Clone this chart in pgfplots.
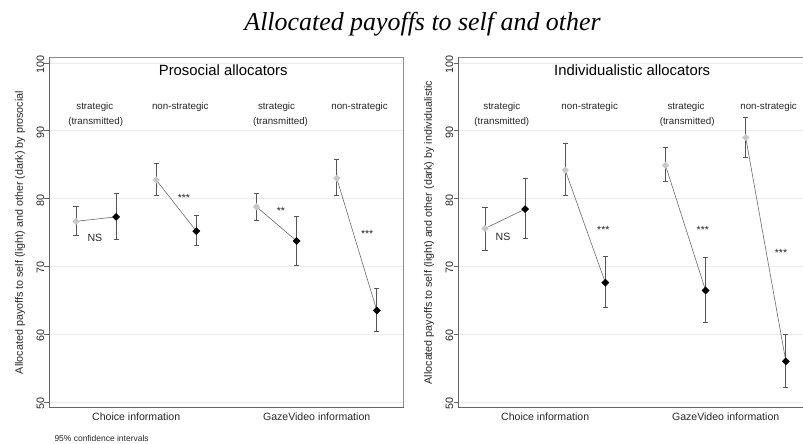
\documentclass[border=0pt]{standalone}
\usepackage{pgfplots}
\pgfplotsset{compat=1.18}
\usepackage{pgfplotstable}
\usepackage{fontspec}
\setmainfont{Liberation Sans}
\newfontfamily\titlefont{Liberation Serif}
\definecolor{selfc}{HTML}{C8C8C8}
\definecolor{barc}{HTML}{555555}
\definecolor{linec}{HTML}{6A6A6A}
\definecolor{gridc}{HTML}{EBEBEB}

\pgfdeclareplotmark{sdiamond}{%
  \pgfpathmoveto{\pgfqpoint{0pt}{\pgfplotmarksize}}%
  \pgfpathlineto{\pgfqpoint{\pgfplotmarksize}{0pt}}%
  \pgfpathlineto{\pgfqpoint{0pt}{-\pgfplotmarksize}}%
  \pgfpathlineto{\pgfqpoint{-\pgfplotmarksize}{0pt}}%
  \pgfpathclose
  \pgfusepathqfillstroke}

% Prosocial allocators
\pgfplotstableread{
x y lo hi
1   76.65 74.50 78.80
3   82.75 80.40 85.15
5.5 78.80 76.75 80.80
7.5 83.00 80.40 85.80
}\proself
\pgfplotstableread{
x y lo hi
2   77.30 74.00 80.70
4   75.20 73.05 77.50
6.5 73.75 70.20 77.30
8.5 63.50 60.40 66.70
}\proother
\pgfplotstableread{
x y
1   76.65
2   77.30
nan nan
3   82.75
4   75.20
nan nan
5.5 78.80
6.5 73.75
nan nan
7.5 83.00
8.5 63.50
}\prolines

% Individualistic allocators
\pgfplotstableread{
x y lo hi
1   75.60 72.40 78.75
3   84.20 80.40 88.10
5.5 84.90 82.50 87.60
7.5 89.00 86.10 92.00
}\indself
\pgfplotstableread{
x y lo hi
2   78.45 74.10 82.90
4   67.60 64.00 71.40
6.5 66.45 61.80 71.30
8.5 56.00 52.20 60.00
}\indother
\pgfplotstableread{
x y
1   75.60
2   78.45
nan nan
3   84.20
4   67.60
nan nan
5.5 84.90
6.5 66.45
nan nan
7.5 89.00
8.5 56.00
}\indlines

\tikzset{
  ann/.style={font=\fontsize{9.8}{11}\selectfont, text=black!85},
  stars/.style={font=\fontsize{10.5}{11}\selectfont, text=black!85, anchor=base},
  ptitle/.style={font=\fontsize{14.9}{16}\selectfont, text=black},
}

\pgfplotsset{
  panel/.style={
    scale only axis, width=354.7bp, height=350.4bp, anchor=south west,
    xmin=0.327, xmax=9.17, ymin=49.16, ymax=100.84,
    axis line style={draw=none},
    ytick={50,60,70,80,90,100}, ytick pos=left, tick align=outside,
    major tick length=4.5bp,
    ytick style={black!60, line width=0.7bp},
    yticklabel style={rotate=90, anchor=south, inner sep=0pt, xshift=-1.5bp,
      font=\fontsize{10.8}{12}\selectfont, text=black!85},
    xtick={2.5,7}, xticklabels={Choice information, GazeVideo information},
    xtick style={draw=none},
    xticklabel style={anchor=north, inner sep=0pt, yshift=-0.5bp,
      font=\fontsize{10.6}{12}\selectfont, text=black!85},
    ymajorgrids, grid style={gridc, line width=0.6bp},
    ylabel style={at={(axis description cs:-0.0818,0.5)}, anchor=center,
      font=\fontsize{10.8}{12}\selectfont, text=black!85},
    /pgf/number format/assume math mode=true,
    clip=false,
    after end axis/.code={
      \draw[black!45, line width=0.7bp] (rel axis cs:0,1) -- (rel axis cs:1,1) -- (rel axis cs:1,0);
      \draw[black!60, line width=0.8bp] (rel axis cs:0,1) -- (rel axis cs:0,0) -- (rel axis cs:1,0);
    },
  },
  connect/.style={linec, line width=0.6bp, mark=none, unbounded coords=jump},
  errs/.style={error bars/.cd, y dir=both, y explicit,
    error bar style={barc, line width=0.9bp},
    error mark=|,
    error mark options={barc, line width=0.9bp, mark size=2.6bp}},
  selfpts/.style={only marks, mark=sdiamond, mark size=3.4bp,
    mark options={fill=selfc, draw=selfc, line width=0.2bp}, errs},
  otherpts/.style={only marks, mark=sdiamond, mark size=3.7bp,
    mark options={fill=black, draw=black, line width=0.2bp}, errs},
}

\begin{document}
\begin{tikzpicture}
\useasboundingbox (0,0) rectangle (803bp,444bp);
\node[font=\titlefont\itshape\fontsize{26}{30}\selectfont, anchor=base] at (422.5bp,413bp) {Allocated payoffs to self and other};

\begin{axis}[panel, at={(49bp,36.3bp)},
  ylabel={Allocated payoffs to self (light) and other (dark) by prosocial}]
\addplot[connect] table[x=x,y=y] {\prolines};
\addplot[selfpts] table[x=x, y=y, y error plus expr=\thisrow{hi}-\thisrow{y}, y error minus expr=\thisrow{y}-\thisrow{lo}] {\proself};
\addplot[otherpts] table[x=x, y=y, y error plus expr=\thisrow{hi}-\thisrow{y}, y error minus expr=\thisrow{y}-\thisrow{lo}] {\proother};
\node[ptitle] at (axis cs:4.67,98.97) {Prosocial allocators};
\node[ann] at (axis cs:1.47,93.5) {strategic};
\node[ann] at (axis cs:1.49,91.3) {(transmitted)};
\node[ann] at (axis cs:3.6,93.5) {non-strategic};
\node[ann] at (axis cs:6.0,93.5) {strategic};
\node[ann] at (axis cs:6.1,91.3) {(transmitted)};
\node[ann] at (axis cs:8.07,93.5) {non-strategic};
\node[ann, font=\fontsize{10.6}{12}\selectfont] at (axis cs:1.47,74.2) {NS};
\node[stars] at (axis cs:3.69,79.6) {***};
\node[stars] at (axis cs:6.11,77.7) {**};
\node[stars] at (axis cs:8.26,74.2) {***};
\end{axis}

\begin{axis}[panel, at={(458bp,36.3bp)},
  ylabel={Allocated payoffs to self (light) and other (dark) by individualistic}]
\addplot[connect] table[x=x,y=y] {\indlines};
\addplot[selfpts] table[x=x, y=y, y error plus expr=\thisrow{hi}-\thisrow{y}, y error minus expr=\thisrow{y}-\thisrow{lo}] {\indself};
\addplot[otherpts] table[x=x, y=y, y error plus expr=\thisrow{hi}-\thisrow{y}, y error minus expr=\thisrow{y}-\thisrow{lo}] {\indother};
\node[ptitle] at (axis cs:4.67,98.97) {Individualistic allocators};
\node[ann] at (axis cs:1.42,93.5) {strategic};
\node[ann] at (axis cs:1.42,91.3) {(transmitted)};
\node[ann] at (axis cs:3.61,93.5) {non-strategic};
\node[ann] at (axis cs:6.01,93.5) {strategic};
\node[ann] at (axis cs:6.04,91.3) {(transmitted)};
\node[ann] at (axis cs:8.07,93.5) {non-strategic};
\node[ann, font=\fontsize{10.6}{12}\selectfont] at (axis cs:1.45,74.3) {NS};
\node[stars] at (axis cs:3.95,74.9) {***};
\node[stars] at (axis cs:6.43,74.9) {***};
\node[stars] at (axis cs:8.38,71.5) {***};
\end{axis}

\node[anchor=base west, font=\fontsize{8.5}{10}\selectfont, text=black!85] at (51bp,2.5bp) {95\% confidence intervals};
\end{tikzpicture}
\end{document}
